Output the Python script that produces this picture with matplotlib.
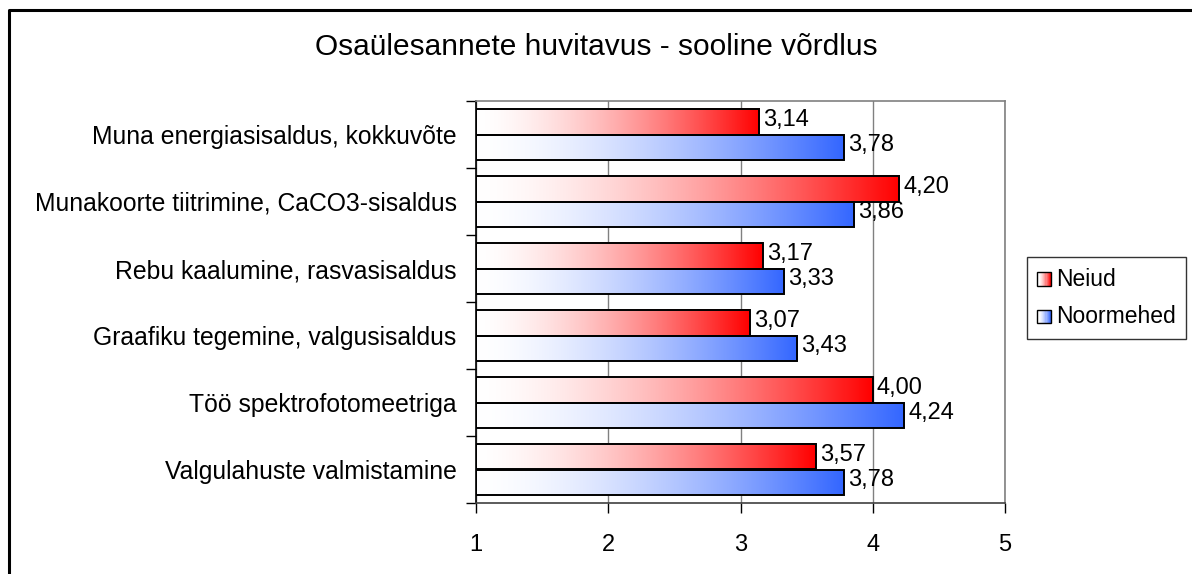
import numpy as np
import matplotlib.pyplot as plt
from matplotlib.patches import Rectangle
from matplotlib.lines import Line2D
from matplotlib.legend_handler import HandlerBase

plt.rcParams['font.family'] = ['Liberation Sans', 'DejaVu Sans']

categories = [
    "Muna energiasisaldus, kokkuvõte",
    "Munakoorte tiitrimine, CaCO3-sisaldus",
    "Rebu kaalumine, rasvasisaldus",
    "Graafiku tegemine, valgusisaldus",
    "Töö spektrofotomeetriga",
    "Valgulahuste valmistamine",
]
neiud = [3.14, 4.20, 3.17, 3.07, 4.00, 3.57]
noormehed = [3.78, 3.86, 3.33, 3.43, 4.24, 3.78]
series_names = ["Neiud", "Noormehed"]
red = np.array([1.0, 0.0, 0.0])
blue = np.array([0.2, 0.4, 1.0])


def gradient(color, n=256):
    t = np.linspace(0, 1, n) ** 1.6
    g = (1 - t)[:, None] * np.ones(3) + t[:, None] * color
    return g[None, :, :]


fig = plt.figure(figsize=(11.92, 5.74), dpi=100)
ax = fig.add_axes([476 / 1192, 1 - 503 / 574, (1005 - 476) / 1192, (503 - 101) / 574])

h = 0.38
y = np.arange(len(categories))
for vals, col, off in [(neiud, red, -h / 2), (noormehed, blue, h / 2)]:
    img = gradient(col)
    for yi, v in zip(y, vals):
        yc = yi + off
        ax.imshow(img, extent=[1, v, yc - h / 2, yc + h / 2], aspect='auto',
                  interpolation='bilinear', zorder=2)
        ax.add_patch(Rectangle((1, yc - h / 2), v - 1, h, fill=False,
                               edgecolor='black', lw=1.4, zorder=3))
        ax.text(v + 0.03, yc - 0.03, f"{v:.2f}".replace('.', ','), va='center', ha='left',
                fontsize=17, zorder=4)

ax.set_xlim(1, 5)
ax.set_ylim(len(categories) - 0.5, -0.5)
ax.set_xticks([1, 2, 3, 4, 5])
ax.set_xticklabels(['1', '2', '3', '4', '5'], fontsize=17)
ax.set_yticks(y)
ax.set_yticklabels(categories, fontsize=17.8)
ax.set_yticks(np.arange(-0.5, len(categories)), minor=True)
ax.tick_params(axis='y', which='major', length=0, pad=14)
ax.tick_params(axis='y', which='minor', length=7, width=1, color='black')
ax.tick_params(axis='x', length=7, width=1, pad=15, color='black')
ax.grid(axis='x', color='#808080', lw=1, zorder=1)
ax.set_axisbelow(True)
for s in ['top', 'right']:
    ax.spines[s].set_color('#808080')
ax.spines['left'].set_color('black')
ax.spines['bottom'].set_color('#404040')
for s in ax.spines.values():
    s.set_linewidth(1.2)


class GradHandler(HandlerBase):
    def __init__(self, color):
        super().__init__()
        self.color = color

    def create_artists(self, legend, orig_handle, xdescent, ydescent, width,
                       height, fontsize, trans):
        size = height * 0.85
        x0 = width - size
        arts = []
        n = 12
        g = gradient(self.color, n)[0]
        for i in range(n):
            arts.append(Rectangle((x0 + i * size / n, -ydescent), size / n, size,
                                  facecolor=g[i], edgecolor='none', transform=trans))
        arts.append(Rectangle((x0, -ydescent), size, size, fill=False,
                              edgecolor='black', lw=1.0, transform=trans))
        return arts


h1 = Rectangle((0, 0), 1, 1)
h2 = Rectangle((0, 0), 1, 1)
leg = fig.legend([h1, h2], series_names, loc='center left',
                 bbox_to_anchor=(1027 / 1192, 1 - 298 / 574), fontsize=16.5,
                 frameon=True, fancybox=False, edgecolor='black',
                 handler_map={h1: GradHandler(red), h2: GradHandler(blue)},
                 handlelength=0.6, handletextpad=0.2, borderpad=0.45,
                 labelspacing=0.65, borderaxespad=0)
leg.get_frame().set_linewidth(1.0)

fig.text(0.5, 1 - 47 / 574, "Osaülesannete huvitavus - sooline võrdlus",
         ha='center', va='center', fontsize=21.5)

fig.add_artist(Line2D([9 / 1192, 9 / 1192, 1], [0, 1 - 10 / 574, 1 - 10 / 574],
                      color='black', lw=2.2, transform=fig.transFigure))

fig.savefig('out.png', dpi=100)
